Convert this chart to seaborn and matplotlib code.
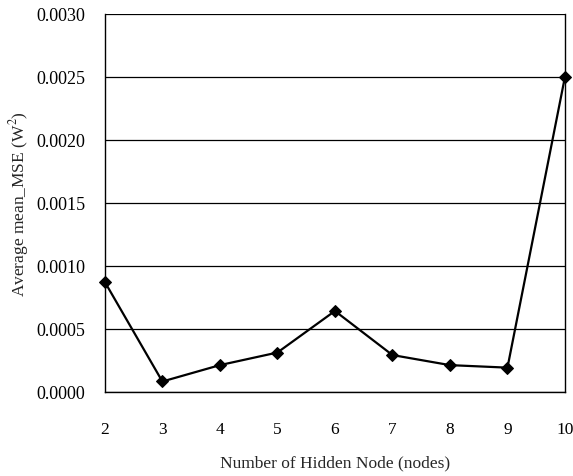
import matplotlib.pyplot as plt
import seaborn as sns
import pandas as pd

# data
hidden_nodes = [2, 3, 4, 5, 6, 7, 8, 9, 10]
avg_mean_mse = [0.00087, 0.00008, 0.00021, 0.00031, 0.00064, 0.00029, 0.00021, 0.00019, 0.0025]
y_ticks = [0.0, 0.0005, 0.0010, 0.0015, 0.0020, 0.0025, 0.0030]

df = pd.DataFrame({"nodes": hidden_nodes, "mse": avg_mean_mse})

sns.set_style("white")
plt.rcParams['font.family'] = ['Liberation Serif', 'DejaVu Serif']
plt.rcParams['mathtext.fontset'] = 'stix'

fig = plt.figure(figsize=(5.73, 4.77), dpi=100)
ax = fig.add_axes([0.183, 0.177, 0.803, 0.792])

sns.lineplot(x="nodes", y="mse", data=df, ax=ax, color="black", linewidth=1.6,
             marker="D", markersize=6.5, markeredgecolor="black", markerfacecolor="black",
             clip_on=False, zorder=5)

ax.set_xlim(2, 10)
ax.set_ylim(0, 0.0030)
ax.set_xticks(hidden_nodes)
ax.set_yticks(y_ticks)
ax.set_yticklabels([f"{v:.4f}" for v in y_ticks])
ax.yaxis.grid(True, color="black", linewidth=0.9)
ax.xaxis.grid(False)

for s in ax.spines.values():
    s.set_color("black")
    s.set_linewidth(1.0)
ax.spines['top'].set_visible(False)

ax.tick_params(axis='x', direction='out', length=4, width=1, pad=17, labelsize=12.5, colors='black')
ax.tick_params(axis='y', direction='out', length=5, width=1, pad=9, labelsize=13, colors='black')

ax.set_xlabel("Number of Hidden Node (nodes)", fontsize=12.5, labelpad=13)
ax.set_ylabel("Average mean_MSE (W$^2$)", fontsize=12.5, labelpad=4)

plt.savefig("out.png", dpi=100)
